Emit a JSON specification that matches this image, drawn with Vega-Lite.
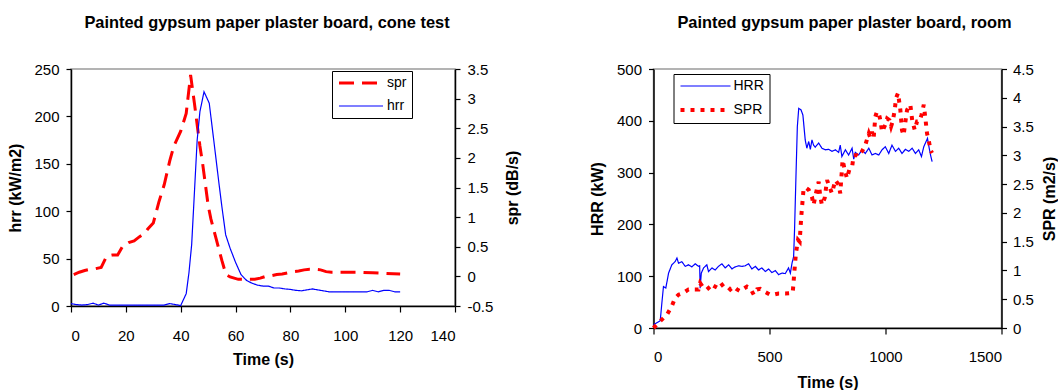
{
  "$schema": "https://vega.github.io/schema/vega-lite/v6.json",
  "padding": {"left": 7, "top": 13, "right": 0, "bottom": 0},
  "bounds": "flush",
  "spacing": 198.5,
  "config": {
    "font": "Liberation Sans",
    "view": {"stroke": "#9a9a9a", "strokeWidth": 1.5},
    "axis": {"domainColor": "black", "domainWidth": 1.5, "tickColor": "black", "tickWidth": 1.2, "labelColor": "black", "titleColor": "black", "labelFontSize": 15, "titleFontSize": 16, "titleFontWeight": "bold", "grid": false, "labelFont": "Liberation Sans", "titleFont": "Liberation Sans"},
    "title": {"fontSize": 16.4, "fontWeight": "bold", "font": "Liberation Sans", "color": "black", "anchor": "middle"},
    "legend": {"labelFont": "Liberation Sans", "labelFontSize": 14, "labelColor": "black"}
  },
  "datasets": {
    "cone": [
      {"t":1,"v":0.03,"s":"spr"},{"t":3,"v":0.07,"s":"spr"},{"t":5,"v":0.1,"s":"spr"},{"t":7,"v":0.12,"s":"spr"},{"t":9,"v":0.13,"s":"spr"},{"t":11,"v":0.15,"s":"spr"},{"t":13,"v":0.34,"s":"spr"},{"t":15,"v":0.36,"s":"spr"},{"t":17,"v":0.36,"s":"spr"},{"t":19,"v":0.52,"s":"spr"},{"t":21,"v":0.57,"s":"spr"},{"t":23,"v":0.6,"s":"spr"},{"t":25,"v":0.67,"s":"spr"},{"t":27,"v":0.73,"s":"spr"},{"t":28,"v":0.8,"s":"spr"},{"t":30,"v":0.9,"s":"spr"},{"t":32,"v":1.25,"s":"spr"},{"t":34,"v":1.55,"s":"spr"},{"t":36,"v":1.95,"s":"spr"},{"t":37.5,"v":2.2,"s":"spr"},{"t":40,"v":2.45,"s":"spr"},{"t":42,"v":2.75,"s":"spr"},{"t":43.6,"v":3.4,"s":"spr"},{"t":45,"v":2.92,"s":"spr"},{"t":47,"v":2.2,"s":"spr"},{"t":48,"v":1.9,"s":"spr"},{"t":50,"v":1.2,"s":"spr"},{"t":51,"v":0.97,"s":"spr"},{"t":53,"v":0.62,"s":"spr"},{"t":55,"v":0.27,"s":"spr"},{"t":56.5,"v":0.03,"s":"spr"},{"t":58,"v":-0.01,"s":"spr"},{"t":61,"v":-0.05,"s":"spr"},{"t":63,"v":-0.05,"s":"spr"},{"t":65,"v":-0.05,"s":"spr"},{"t":67,"v":-0.05,"s":"spr"},{"t":69,"v":-0.03,"s":"spr"},{"t":71,"v":0.0,"s":"spr"},{"t":73,"v":0.01,"s":"spr"},{"t":75,"v":0.03,"s":"spr"},{"t":77,"v":0.04,"s":"spr"},{"t":79,"v":0.06,"s":"spr"},{"t":81,"v":0.08,"s":"spr"},{"t":83,"v":0.09,"s":"spr"},{"t":85,"v":0.11,"s":"spr"},{"t":87,"v":0.12,"s":"spr"},{"t":89,"v":0.12,"s":"spr"},{"t":91,"v":0.11,"s":"spr"},{"t":93,"v":0.08,"s":"spr"},{"t":95,"v":0.07,"s":"spr"},{"t":100,"v":0.07,"s":"spr"},{"t":105,"v":0.07,"s":"spr"},{"t":110,"v":0.06,"s":"spr"},{"t":115,"v":0.05,"s":"spr"},{"t":120,"v":0.04,"s":"spr"},
      {"t":0,"v":2.5,"s":"hrr"},{"t":2,"v":1.5,"s":"hrr"},{"t":4,"v":1,"s":"hrr"},{"t":6,"v":1.5,"s":"hrr"},{"t":8,"v":3,"s":"hrr"},{"t":10,"v":1,"s":"hrr"},{"t":12,"v":3,"s":"hrr"},{"t":14,"v":1,"s":"hrr"},{"t":16,"v":1,"s":"hrr"},{"t":18,"v":1,"s":"hrr"},{"t":20,"v":1,"s":"hrr"},{"t":22,"v":1,"s":"hrr"},{"t":24,"v":1,"s":"hrr"},{"t":26,"v":1,"s":"hrr"},{"t":28,"v":1,"s":"hrr"},{"t":30,"v":1,"s":"hrr"},{"t":32,"v":1,"s":"hrr"},{"t":34,"v":1,"s":"hrr"},{"t":36,"v":2.5,"s":"hrr"},{"t":38,"v":1.5,"s":"hrr"},{"t":40,"v":0.5,"s":"hrr"},{"t":42,"v":13,"s":"hrr"},{"t":43,"v":35,"s":"hrr"},{"t":44,"v":65,"s":"hrr"},{"t":45,"v":120,"s":"hrr"},{"t":46,"v":175,"s":"hrr"},{"t":47,"v":205,"s":"hrr"},{"t":48.5,"v":226,"s":"hrr"},{"t":50.4,"v":214,"s":"hrr"},{"t":52,"v":176,"s":"hrr"},{"t":53,"v":152,"s":"hrr"},{"t":54,"v":128,"s":"hrr"},{"t":55,"v":105,"s":"hrr"},{"t":56.4,"v":75,"s":"hrr"},{"t":58,"v":61,"s":"hrr"},{"t":60,"v":46,"s":"hrr"},{"t":62,"v":33,"s":"hrr"},{"t":64,"v":27,"s":"hrr"},{"t":66,"v":24,"s":"hrr"},{"t":68,"v":22,"s":"hrr"},{"t":70,"v":21,"s":"hrr"},{"t":72,"v":21,"s":"hrr"},{"t":74,"v":19,"s":"hrr"},{"t":76,"v":19,"s":"hrr"},{"t":78,"v":18,"s":"hrr"},{"t":80,"v":17.5,"s":"hrr"},{"t":82,"v":16.5,"s":"hrr"},{"t":84,"v":16,"s":"hrr"},{"t":86,"v":17,"s":"hrr"},{"t":88,"v":18,"s":"hrr"},{"t":90,"v":17,"s":"hrr"},{"t":92,"v":16,"s":"hrr"},{"t":94,"v":15,"s":"hrr"},{"t":96,"v":15,"s":"hrr"},{"t":100,"v":15,"s":"hrr"},{"t":104,"v":15,"s":"hrr"},{"t":108,"v":15,"s":"hrr"},{"t":110,"v":16.5,"s":"hrr"},{"t":112,"v":15,"s":"hrr"},{"t":114,"v":16.5,"s":"hrr"},{"t":116,"v":16.5,"s":"hrr"},{"t":118,"v":15,"s":"hrr"},{"t":120,"v":15,"s":"hrr"}
    ],
    "room": [
      {"t":0,"v":6,"s":"HRR"},{"t":14,"v":10,"s":"HRR"},{"t":29,"v":14,"s":"HRR"},{"t":36,"v":48,"s":"HRR"},{"t":43,"v":80,"s":"HRR"},{"t":53,"v":77,"s":"HRR"},{"t":65,"v":106,"s":"HRR"},{"t":79,"v":122,"s":"HRR"},{"t":93,"v":128,"s":"HRR"},{"t":101,"v":135,"s":"HRR"},{"t":108,"v":125,"s":"HRR"},{"t":122,"v":128,"s":"HRR"},{"t":137,"v":119,"s":"HRR"},{"t":151,"v":122,"s":"HRR"},{"t":165,"v":118,"s":"HRR"},{"t":180,"v":124,"s":"HRR"},{"t":194,"v":119,"s":"HRR"},{"t":199,"v":120,"s":"HRR"},{"t":201,"v":77,"s":"HRR"},{"t":206,"v":106,"s":"HRR"},{"t":216,"v":116,"s":"HRR"},{"t":230,"v":122,"s":"HRR"},{"t":237,"v":109,"s":"HRR"},{"t":252,"v":116,"s":"HRR"},{"t":266,"v":112,"s":"HRR"},{"t":280,"v":119,"s":"HRR"},{"t":295,"v":124,"s":"HRR"},{"t":309,"v":116,"s":"HRR"},{"t":324,"v":122,"s":"HRR"},{"t":338,"v":114,"s":"HRR"},{"t":352,"v":118,"s":"HRR"},{"t":367,"v":120,"s":"HRR"},{"t":381,"v":119,"s":"HRR"},{"t":395,"v":120,"s":"HRR"},{"t":410,"v":124,"s":"HRR"},{"t":424,"v":114,"s":"HRR"},{"t":439,"v":119,"s":"HRR"},{"t":453,"v":112,"s":"HRR"},{"t":467,"v":116,"s":"HRR"},{"t":482,"v":109,"s":"HRR"},{"t":496,"v":114,"s":"HRR"},{"t":510,"v":107,"s":"HRR"},{"t":525,"v":111,"s":"HRR"},{"t":539,"v":103,"s":"HRR"},{"t":554,"v":106,"s":"HRR"},{"t":568,"v":105,"s":"HRR"},{"t":582,"v":116,"s":"HRR"},{"t":590,"v":106,"s":"HRR"},{"t":597,"v":125,"s":"HRR"},{"t":604,"v":138,"s":"HRR"},{"t":608,"v":190,"s":"HRR"},{"t":614,"v":292,"s":"HRR"},{"t":620,"v":389,"s":"HRR"},{"t":626,"v":424,"s":"HRR"},{"t":636,"v":421,"s":"HRR"},{"t":644,"v":411,"s":"HRR"},{"t":650,"v":382,"s":"HRR"},{"t":654,"v":363,"s":"HRR"},{"t":661,"v":347,"s":"HRR"},{"t":669,"v":360,"s":"HRR"},{"t":676,"v":345,"s":"HRR"},{"t":683,"v":363,"s":"HRR"},{"t":690,"v":353,"s":"HRR"},{"t":697,"v":349,"s":"HRR"},{"t":712,"v":357,"s":"HRR"},{"t":726,"v":347,"s":"HRR"},{"t":741,"v":344,"s":"HRR"},{"t":755,"v":345,"s":"HRR"},{"t":769,"v":341,"s":"HRR"},{"t":784,"v":344,"s":"HRR"},{"t":798,"v":339,"s":"HRR"},{"t":805,"v":353,"s":"HRR"},{"t":812,"v":331,"s":"HRR"},{"t":827,"v":344,"s":"HRR"},{"t":841,"v":334,"s":"HRR"},{"t":856,"v":347,"s":"HRR"},{"t":863,"v":326,"s":"HRR"},{"t":870,"v":339,"s":"HRR"},{"t":884,"v":334,"s":"HRR"},{"t":899,"v":344,"s":"HRR"},{"t":913,"v":337,"s":"HRR"},{"t":928,"v":347,"s":"HRR"},{"t":942,"v":334,"s":"HRR"},{"t":956,"v":337,"s":"HRR"},{"t":971,"v":334,"s":"HRR"},{"t":985,"v":344,"s":"HRR"},{"t":999,"v":350,"s":"HRR"},{"t":1014,"v":337,"s":"HRR"},{"t":1028,"v":353,"s":"HRR"},{"t":1043,"v":341,"s":"HRR"},{"t":1057,"v":347,"s":"HRR"},{"t":1071,"v":337,"s":"HRR"},{"t":1086,"v":345,"s":"HRR"},{"t":1100,"v":341,"s":"HRR"},{"t":1115,"v":347,"s":"HRR"},{"t":1129,"v":337,"s":"HRR"},{"t":1143,"v":344,"s":"HRR"},{"t":1155,"v":331,"s":"HRR"},{"t":1165,"v":350,"s":"HRR"},{"t":1175,"v":360,"s":"HRR"},{"t":1181,"v":366,"s":"HRR"},{"t":1186,"v":353,"s":"HRR"},{"t":1194,"v":334,"s":"HRR"},{"t":1201,"v":321,"s":"HRR"},
      {"t":0,"v":0,"s":"SPR"},{"t":22,"v":0.09,"s":"SPR"},{"t":29,"v":0.12,"s":"SPR"},{"t":58,"v":0.23,"s":"SPR"},{"t":79,"v":0.38,"s":"SPR"},{"t":93,"v":0.52,"s":"SPR"},{"t":108,"v":0.58,"s":"SPR"},{"t":129,"v":0.61,"s":"SPR"},{"t":151,"v":0.67,"s":"SPR"},{"t":173,"v":0.67,"s":"SPR"},{"t":194,"v":0.67,"s":"SPR"},{"t":201,"v":0.78,"s":"SPR"},{"t":216,"v":0.69,"s":"SPR"},{"t":230,"v":0.67,"s":"SPR"},{"t":244,"v":0.72,"s":"SPR"},{"t":259,"v":0.67,"s":"SPR"},{"t":273,"v":0.77,"s":"SPR"},{"t":288,"v":0.79,"s":"SPR"},{"t":302,"v":0.72,"s":"SPR"},{"t":316,"v":0.73,"s":"SPR"},{"t":331,"v":0.67,"s":"SPR"},{"t":345,"v":0.72,"s":"SPR"},{"t":360,"v":0.67,"s":"SPR"},{"t":374,"v":0.64,"s":"SPR"},{"t":388,"v":0.68,"s":"SPR"},{"t":403,"v":0.72,"s":"SPR"},{"t":417,"v":0.69,"s":"SPR"},{"t":432,"v":0.58,"s":"SPR"},{"t":446,"v":0.67,"s":"SPR"},{"t":460,"v":0.68,"s":"SPR"},{"t":475,"v":0.64,"s":"SPR"},{"t":489,"v":0.61,"s":"SPR"},{"t":503,"v":0.58,"s":"SPR"},{"t":518,"v":0.58,"s":"SPR"},{"t":539,"v":0.6,"s":"SPR"},{"t":568,"v":0.6,"s":"SPR"},{"t":600,"v":0.61,"s":"SPR"},{"t":604,"v":0.81,"s":"SPR"},{"t":608,"v":1.02,"s":"SPR"},{"t":614,"v":1.3,"s":"SPR"},{"t":623,"v":1.53,"s":"SPR"},{"t":630,"v":1.5,"s":"SPR"},{"t":637,"v":1.94,"s":"SPR"},{"t":643,"v":2.23,"s":"SPR"},{"t":647,"v":2.43,"s":"SPR"},{"t":659,"v":2.43,"s":"SPR"},{"t":669,"v":2.4,"s":"SPR"},{"t":683,"v":2.28,"s":"SPR"},{"t":690,"v":2.14,"s":"SPR"},{"t":705,"v":2.43,"s":"SPR"},{"t":712,"v":2.54,"s":"SPR"},{"t":719,"v":2.28,"s":"SPR"},{"t":726,"v":2.14,"s":"SPR"},{"t":738,"v":2.26,"s":"SPR"},{"t":748,"v":2.57,"s":"SPR"},{"t":758,"v":2.46,"s":"SPR"},{"t":769,"v":2.34,"s":"SPR"},{"t":784,"v":2.57,"s":"SPR"},{"t":798,"v":2.49,"s":"SPR"},{"t":805,"v":2.34,"s":"SPR"},{"t":815,"v":2.92,"s":"SPR"},{"t":824,"v":2.75,"s":"SPR"},{"t":834,"v":2.6,"s":"SPR"},{"t":844,"v":2.75,"s":"SPR"},{"t":856,"v":2.8,"s":"SPR"},{"t":863,"v":3.0,"s":"SPR"},{"t":877,"v":3.0,"s":"SPR"},{"t":884,"v":2.98,"s":"SPR"},{"t":899,"v":3.07,"s":"SPR"},{"t":913,"v":3.18,"s":"SPR"},{"t":928,"v":3.38,"s":"SPR"},{"t":935,"v":3.3,"s":"SPR"},{"t":942,"v":3.41,"s":"SPR"},{"t":949,"v":3.3,"s":"SPR"},{"t":956,"v":3.67,"s":"SPR"},{"t":963,"v":3.76,"s":"SPR"},{"t":971,"v":3.73,"s":"SPR"},{"t":978,"v":3.61,"s":"SPR"},{"t":985,"v":3.41,"s":"SPR"},{"t":999,"v":3.53,"s":"SPR"},{"t":1007,"v":3.64,"s":"SPR"},{"t":1017,"v":3.61,"s":"SPR"},{"t":1024,"v":3.5,"s":"SPR"},{"t":1031,"v":3.59,"s":"SPR"},{"t":1040,"v":3.79,"s":"SPR"},{"t":1045,"v":3.99,"s":"SPR"},{"t":1054,"v":4.08,"s":"SPR"},{"t":1064,"v":3.79,"s":"SPR"},{"t":1071,"v":3.44,"s":"SPR"},{"t":1078,"v":3.35,"s":"SPR"},{"t":1086,"v":3.59,"s":"SPR"},{"t":1093,"v":3.79,"s":"SPR"},{"t":1107,"v":3.88,"s":"SPR"},{"t":1115,"v":3.61,"s":"SPR"},{"t":1126,"v":3.44,"s":"SPR"},{"t":1136,"v":3.59,"s":"SPR"},{"t":1146,"v":3.59,"s":"SPR"},{"t":1155,"v":3.7,"s":"SPR"},{"t":1165,"v":3.88,"s":"SPR"},{"t":1172,"v":3.64,"s":"SPR"},{"t":1179,"v":3.38,"s":"SPR"},{"t":1186,"v":3.27,"s":"SPR"},{"t":1194,"v":3.09,"s":"SPR"},{"t":1201,"v":3.04,"s":"SPR"}
    ]
  },
  "hconcat": [
    {
      "width": 384,
      "height": 237,
      "title": {"text": "Painted gypsum paper plaster board, cone test", "offset": 18, "dx": 4, "baseline": "alphabetic"},
      "data": {"name": "cone"},
      "layer": [
        {
          "transform": [{"filter": "datum.s === 'spr'"}],
          "mark": {"type": "line"},
          "encoding": {
            "x": {"field": "t", "type": "quantitative", "scale": {"domain": [0, 140]}, "axis": {"values": [0,20,40,60,80,100,120,140], "title": "Time (s)", "tickSize": 6, "labelPadding": 16, "titlePadding": 8}},
            "y": {"field": "v", "type": "quantitative", "scale": {"domain": [-0.5, 3.5]}, "axis": {"orient": "right", "values": [-0.5,0,0.5,1,1.5,2,2.5,3,3.5], "labelExpr": "toString(datum.value)", "title": "spr (dB/s)", "titleAngle": -90, "titleBaseline": "top", "tickSize": 5, "labelPadding": 7, "titlePadding": 12}},
            "color": {"field": "s", "type": "nominal", "scale": {"domain": ["spr","hrr"], "range": ["#ff0000","#0000ff"]}, "legend": {"orient": "none", "legendX": 261, "legendY": 2, "title": null, "symbolType": "M-1,0H7.8", "symbolSize": 100, "padding": 5, "strokeColor": "black", "fillColor": "white", "labelOffset": 36, "rowPadding": 9}},
            "strokeDash": {"field": "s", "type": "nominal", "scale": {"domain": ["spr","hrr"], "range": [[15,8],[1,0]]}, "legend": {"orient": "none", "legendX": 261, "legendY": 2, "title": null, "symbolType": "M-1,0H7.8", "symbolSize": 100, "padding": 5, "strokeColor": "black", "fillColor": "white", "labelOffset": 36, "rowPadding": 9}},
            "strokeWidth": {"field": "s", "type": "nominal", "scale": {"domain": ["spr","hrr"], "range": [3, 1.2]}, "legend": {"orient": "none", "legendX": 261, "legendY": 2, "title": null, "symbolType": "M-1,0H7.8", "symbolSize": 100, "padding": 5, "strokeColor": "black", "fillColor": "white", "labelOffset": 36, "rowPadding": 9}}
          }
        },
        {
          "transform": [{"filter": "datum.s === 'hrr'"}],
          "mark": {"type": "line"},
          "encoding": {
            "x": {"field": "t", "type": "quantitative", "scale": {"domain": [0, 140]}},
            "y": {"field": "v", "type": "quantitative", "scale": {"domain": [0, 250]}, "axis": {"orient": "left", "values": [0,50,100,150,200,250], "title": "hrr (kW/m2)", "tickSize": 5, "labelPadding": 7, "titlePadding": 10}},
            "color": {"field": "s", "type": "nominal"},
            "strokeDash": {"field": "s", "type": "nominal"},
            "strokeWidth": {"field": "s", "type": "nominal"}
          }
        }
      ],
      "resolve": {"scale": {"y": "independent"}}
    },
    {
      "width": 348,
      "height": 259,
      "title": {"text": "Painted gypsum paper plaster board, room", "offset": 18, "dx": 17, "baseline": "alphabetic"},
      "data": {"name": "room"},
      "layer": [
        {
          "transform": [{"filter": "datum.s === 'HRR'"}],
          "mark": {"type": "line"},
          "encoding": {
            "x": {"field": "t", "type": "quantitative", "scale": {"domain": [0, 1500]}, "axis": {"values": [0,500,1000,1500], "labelExpr": "toString(datum.value)", "title": "Time (s)", "tickSize": 6, "labelPadding": 15, "titlePadding": 10}},
            "y": {"field": "v", "type": "quantitative", "scale": {"domain": [0, 500]}, "axis": {"orient": "left", "values": [0,100,200,300,400,500], "title": "HRR (kW)", "tickSize": 5, "labelPadding": 7, "titlePadding": 11}},
            "color": {"field": "s", "type": "nominal", "scale": {"domain": ["HRR","SPR"], "range": ["#0000ff","#ff0000"]}, "legend": {"orient": "none", "legendX": 20, "legendY": 5, "title": null, "symbolType": "M-1,0H9", "symbolSize": 100, "padding": 5, "strokeColor": "black", "fillColor": "white", "labelOffset": 41, "rowPadding": 9}},
            "strokeDash": {"field": "s", "type": "nominal", "scale": {"domain": ["HRR","SPR"], "range": [[1,0],[4,6]]}, "legend": {"orient": "none", "legendX": 20, "legendY": 5, "title": null, "symbolType": "M-1,0H9", "symbolSize": 100, "padding": 5, "strokeColor": "black", "fillColor": "white", "labelOffset": 41, "rowPadding": 9}},
            "strokeWidth": {"field": "s", "type": "nominal", "scale": {"domain": ["HRR","SPR"], "range": [1.2, 4]}, "legend": {"orient": "none", "legendX": 20, "legendY": 5, "title": null, "symbolType": "M-1,0H9", "symbolSize": 100, "padding": 5, "strokeColor": "black", "fillColor": "white", "labelOffset": 41, "rowPadding": 9}}
          }
        },
        {
          "transform": [{"filter": "datum.s === 'SPR'"}],
          "mark": {"type": "line"},
          "encoding": {
            "x": {"field": "t", "type": "quantitative", "scale": {"domain": [0, 1500]}},
            "y": {"field": "v", "type": "quantitative", "scale": {"domain": [0, 4.5]}, "axis": {"orient": "right", "values": [0,0.5,1,1.5,2,2.5,3,3.5,4,4.5], "labelExpr": "toString(datum.value)", "title": "SPR (m2/s)", "titleAngle": -90, "titleBaseline": "top", "tickSize": 5, "labelPadding": 6, "titlePadding": 8}},
            "color": {"field": "s", "type": "nominal"},
            "strokeDash": {"field": "s", "type": "nominal"},
            "strokeWidth": {"field": "s", "type": "nominal"}
          }
        }
      ],
      "resolve": {"scale": {"y": "independent"}}
    }
  ],
  "resolve": {"scale": {"color": "independent", "strokeDash": "independent", "strokeWidth": "independent"}}
}
